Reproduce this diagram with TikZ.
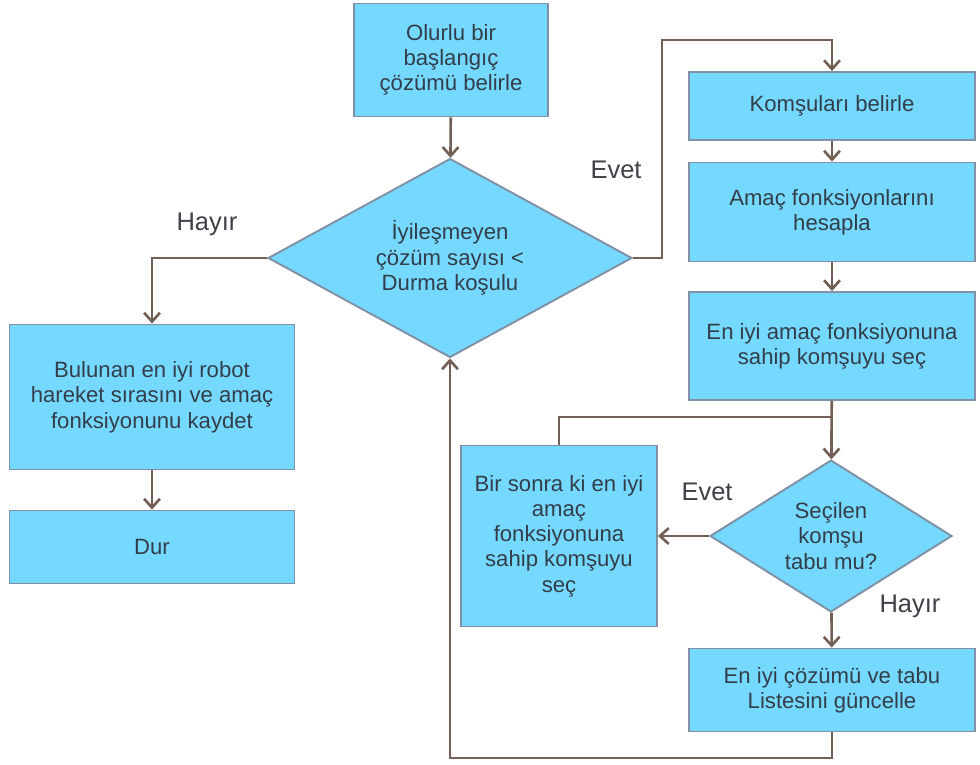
\documentclass[tikz,border=0pt]{standalone}
\usepackage{fontspec}
\setmainfont{Liberation Sans}
\usetikzlibrary{shapes.geometric,arrows.meta}
\definecolor{boxfill}{HTML}{75D9FF}
\definecolor{boxline}{HTML}{8090A5}
\definecolor{arrline}{HTML}{735F55}
\definecolor{txt}{HTML}{333D4A}
\definecolor{lbl}{HTML}{404048}

\begin{document}
\begin{tikzpicture}[x=0.02cm, y=-0.02cm,
        font=\fontsize{12.6}{14.4}\selectfont, text=txt,
        proc/.style={draw=boxline, line width=1.1pt, fill=boxfill, align=center, inner sep=2pt},
        cond/.style={diamond, draw=boxline, line width=1.1pt, fill=boxfill, align=center, inner sep=-12pt},
        tag/.style={text=lbl, font=\fontsize{14.5}{16}\selectfont},
        arr/.style={draw=arrline, line width=1.5pt, -{Straight Barb[length=5pt,width=9pt]}},
        link/.style={draw=arrline, line width=1.5pt}]
        \useasboundingbox (0,0) rectangle (980,764);
        % boxes
        \node[proc, minimum width=3.88cm, minimum height=2.26cm] (start) at (451,60) {Olurlu bir\\başlangıç\\çözümü belirle};
        \node[cond, minimum width=7.28cm, minimum height=3.98cm] (stopq) at (450,258) {İyileşmeyen\\çözüm sayısı <\\Durma koşulu};
        \node[proc, minimum width=5.72cm, minimum height=1.36cm] (neigh) at (832,106) {Komşuları belirle};
        \node[proc, minimum width=5.72cm, minimum height=1.98cm] (calc) at (832,212) {Amaç fonksiyonlarını\\hesapla};
        \node[proc, minimum width=5.72cm, minimum height=2.16cm] (choose) at (832,346) {En iyi amaç fonksiyonuna\\sahip komşuyu seç};
        \node[cond, minimum width=4.84cm, minimum height=3.04cm] (tabuq) at (831,536) {Seçilen\\komşu\\tabu mu?};
        \node[proc, minimum width=3.92cm, minimum height=3.62cm] (next) at (559,536) {Bir sonra ki en iyi\\amaç\\fonksiyonuna\\sahip komşuyu\\seç};
        \node[proc, minimum width=5.72cm, minimum height=1.66cm] (update) at (832,690) {En iyi çözümü ve tabu\\Listesini güncelle};
        \node[proc, minimum width=5.7cm, minimum height=2.9cm] (save) at (152,397) {Bulunan en iyi robot\\hareket sırasını ve amaç\\fonksiyonunu kaydet};
        \node[proc, minimum width=5.7cm, minimum height=1.46cm] (halt) at (152,547) {Dur};

        % labels
        \node[tag] (no1) at (207,224) {Hayır};
        \node[tag] (yes1) at (616,170) {Evet};
        \node[tag] (yes2) at (707,492) {Evet};
        \node[tag] (no2) at (910,606) {Hayır};

        % bends
        \coordinate (up) at (662,40);
        \coordinate (join) at (832,417);
        \coordinate (down) at (832,758);

        % connectors
        \draw[arr] (start) -- (stopq);
        \draw[arr] (stopq.west) -| (save.north);
        \draw[arr] (save) -- (halt);
        \draw[arr] (stopq.east) -| (up) -| (neigh.north);
        \draw[arr] (neigh) -- (calc);
        \draw[arr] (calc) -- (choose);
        \draw[arr] (choose) -- (tabuq);
        \draw[link] (next.north) |- (join);
        \draw[arr] (tabuq.west) -- (next.east);
        \draw[arr] (tabuq) -- (update);
        \draw[arr] (update.south) -- (down) -| (stopq.south);
\end{tikzpicture}
\end{document}
